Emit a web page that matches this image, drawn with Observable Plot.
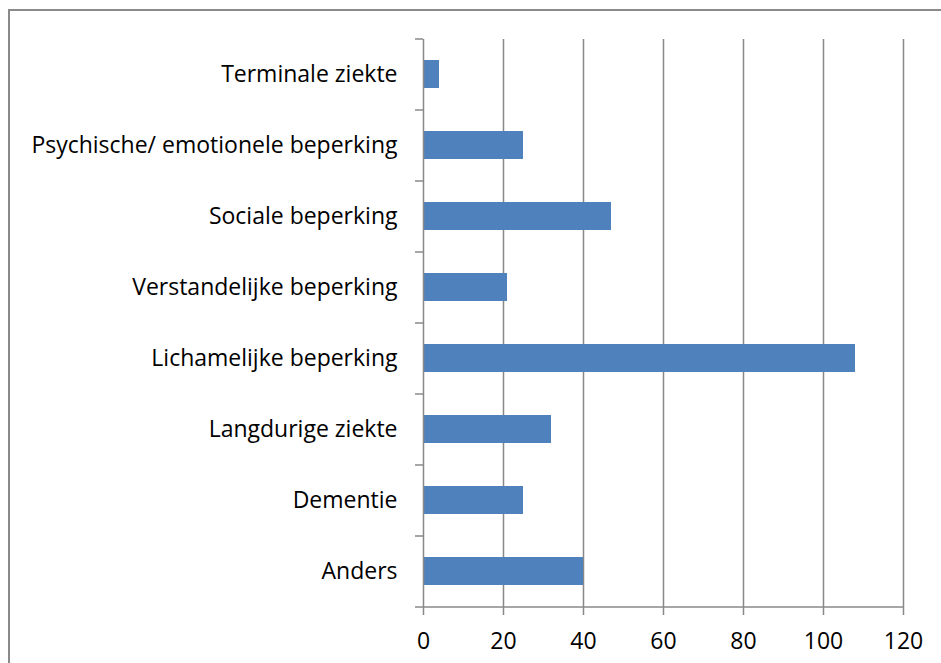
<!DOCTYPE html>
<html>
<head>
<meta charset="utf-8">
<script src="https://cdn.jsdelivr.net/npm/d3@7"></script>
<script src="https://cdn.jsdelivr.net/npm/@observablehq/plot@0.6"></script>
<style>
  html, body { margin: 0; padding: 0; background: #fff; }
  #wrap { position: relative; width: 941px; height: 663px; overflow: hidden; }
  #border { position: absolute; left: 8px; top: 9px; width: 1000px; height: 1000px;
            border-left: 2px solid #8a8a8a; border-top: 2px solid #8a8a8a; box-sizing: border-box; pointer-events: none; }
  #chart { position: absolute; left: 0; top: 0; }
</style>
</head>
<body>
<div id="wrap"><div id="chart"></div><div id="border"></div></div>
<script>
const categories = [
  "Terminale ziekte",
  "Psychische/ emotionele beperking",
  "Sociale beperking",
  "Verstandelijke beperking",
  "Lichamelijke beperking",
  "Langdurige ziekte",
  "Dementie",
  "Anders"
];
const counts = [4, 25, 47, 21, 108, 32, 25, 40];
const xTicks = [0, 20, 40, 60, 80, 100, 120];

const data = categories.map((c, i) => ({category: c, value: counts[i]}));

const W = 941, H = 663;
const mTop = 39, mBottom = 56, mLeft = 423, mRight = 38;
const step = (H - mTop - mBottom) / categories.length;
const gray = "#888888";
const font = "'Open Sans', 'Liberation Sans', Arial, sans-serif";
const fs = 23;

const plot = Plot.plot({
  width: W,
  height: H,
  marginTop: mTop,
  marginBottom: mBottom,
  marginLeft: mLeft,
  marginRight: mRight,
  style: {fontFamily: font, fontSize: fs + "px", color: "#000", background: "transparent"},
  x: {domain: [0, 120], ticks: xTicks, label: null},
  y: {domain: categories, paddingInner: 0.6, paddingOuter: 0.3, label: null},
  marks: [
    Plot.gridX(xTicks.filter(t => t > 0), {stroke: gray, strokeOpacity: 1, strokeWidth: 1.5}),
    Plot.barX(data, {x: "value", y: "category", fill: "#4F81BD"}),
    Plot.ruleX([0], {stroke: gray, strokeWidth: 1.5}),
    Plot.ruleY(categories, {y: d => d, x1: -2, x2: 0, dy: -step / 2, stroke: gray, strokeWidth: 1.5}),
    Plot.ruleY([categories[categories.length - 1]], {y: d => d, x1: -2, x2: 120, dy: step / 2, stroke: gray, strokeWidth: 1.5}),
    Plot.axisX({ticks: xTicks, tickSize: 8, tickPadding: 17, stroke: gray, strokeWidth: 1.5, strokeOpacity: 1, fill: "#000", fontSize: fs, label: null, tickFormat: d => String(d)}),
    Plot.axisY({tickSize: 0, tickPadding: 26, fill: "#000", fontSize: fs, label: null})
  ]
});
document.getElementById("chart").appendChild(plot);
</script>
</body>
</html>
